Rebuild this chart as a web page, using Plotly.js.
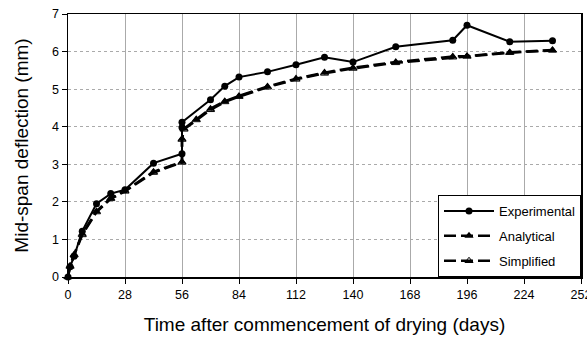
<!DOCTYPE html>
<html>
<head>
<meta charset="utf-8">
<script src="https://cdn.plot.ly/plotly-3.0.1.min.js"></script>
<style>html,body{margin:0;padding:0;background:#fff;}#chart{width:587px;height:340px;}</style>
</head>
<body>
<div id="chart"></div>
<script>
const expDays = [0,1,3,7,14,21,28,42,56,56,56,70,77,84,98,112,126,140,161,189,196,217,238];
const expVals = [0,0.27,0.55,1.22,1.95,2.22,2.32,3.03,3.28,3.98,4.12,4.72,5.08,5.32,5.46,5.65,5.85,5.72,6.13,6.30,6.70,6.26,6.29];
const anaDays = [0,1,3,7,14,21,28,42,56,56,57,63,70,77,84,98,112,126,140,161,189,196,217,238];
const anaVals = [0,0.3,0.6,1.15,1.75,2.1,2.3,2.8,3.07,3.68,3.95,4.2,4.48,4.68,4.82,5.07,5.28,5.44,5.57,5.72,5.87,5.88,5.98,6.04];
const simDays = [0,1,3,7,14,21,28,42,56,56,57,63,70,77,84,98,112,126,140,161,189,196,217,238];
const simVals = [0,0.28,0.58,1.12,1.73,2.08,2.28,2.78,3.05,3.66,3.93,4.18,4.45,4.66,4.8,5.05,5.26,5.42,5.55,5.7,5.85,5.87,5.97,6.03];
const xTicks = [0,28,56,84,112,140,168,196,224,252];
const yTicks = [0,1,2,3,4,5,6,7];

const font = 'Liberation Sans, Arial, sans-serif';
const traces = [
  {x: expDays, y: expVals, name: 'Experimental', legendgroup: 'e', mode: 'lines+markers', cliponaxis: false,
   line: {color: '#000', width: 2}, marker: {symbol: 'circle', size: 7, color: '#000'}},
  {x: anaDays, y: anaVals, name: 'Analytical', legendgroup: 'a', mode: 'lines+markers', cliponaxis: false,
   line: {color: '#000', width: 2.5, dash: '12px,5px'}, marker: {symbol: 'triangle-up', size: 8, color: '#000'}},
  {x: simDays, y: simVals, name: 'Simplified', legendgroup: 's', mode: 'lines+markers', cliponaxis: false,
   line: {color: '#000', width: 2.5, dash: '12px,5px'}, marker: {symbol: 'triangle-up-open', size: 7, color: '#000', line: {width: 1}}}
];
const layout = {
  width: 587, height: 340,
  margin: {l: 68, r: 6, t: 14, b: 63},
  paper_bgcolor: '#fff', plot_bgcolor: '#fff',
  font: {family: font, size: 13, color: '#000'},
  showlegend: true,
  legend: {x: 1, xanchor: 'right', y: 0, yanchor: 'bottom', bgcolor: '#fff',
           bordercolor: '#000', borderwidth: 1, font: {family: font, size: 13, color: '#000'},
           tracegroupgap: 5, itemwidth: 50},
  xaxis: {range: [0, 252], tickvals: xTicks, ticktext: xTicks.map(String),
          ticks: 'outside', ticklen: 5, tickcolor: '#000', showline: true, linecolor: '#000', linewidth: 1.5,
          mirror: true, showgrid: true, gridcolor: '#aaa', gridwidth: 1, zeroline: false,
          ticklabeloverflow: 'allow',
          tickfont: {family: font, size: 12.5},
          title: {text: 'Time after commencement of drying (days)', font: {family: font, size: 19}, standoff: 17}},
  yaxis: {range: [0, 7], tickvals: yTicks, ticks: 'outside', ticklen: 5, tickcolor: '#000',
          showline: true, linecolor: '#000', linewidth: 1.5, mirror: true,
          showgrid: true, gridcolor: '#aaa', gridwidth: 1, griddash: 'dot', zeroline: false,
          tickfont: {family: font, size: 12.5},
          title: {text: 'Mid-span deflection (mm)', font: {family: font, size: 19}, standoff: 18}}
};
Plotly.newPlot('chart', traces, layout, {displayModeBar: false, staticPlot: true});
</script>
</body>
</html>
